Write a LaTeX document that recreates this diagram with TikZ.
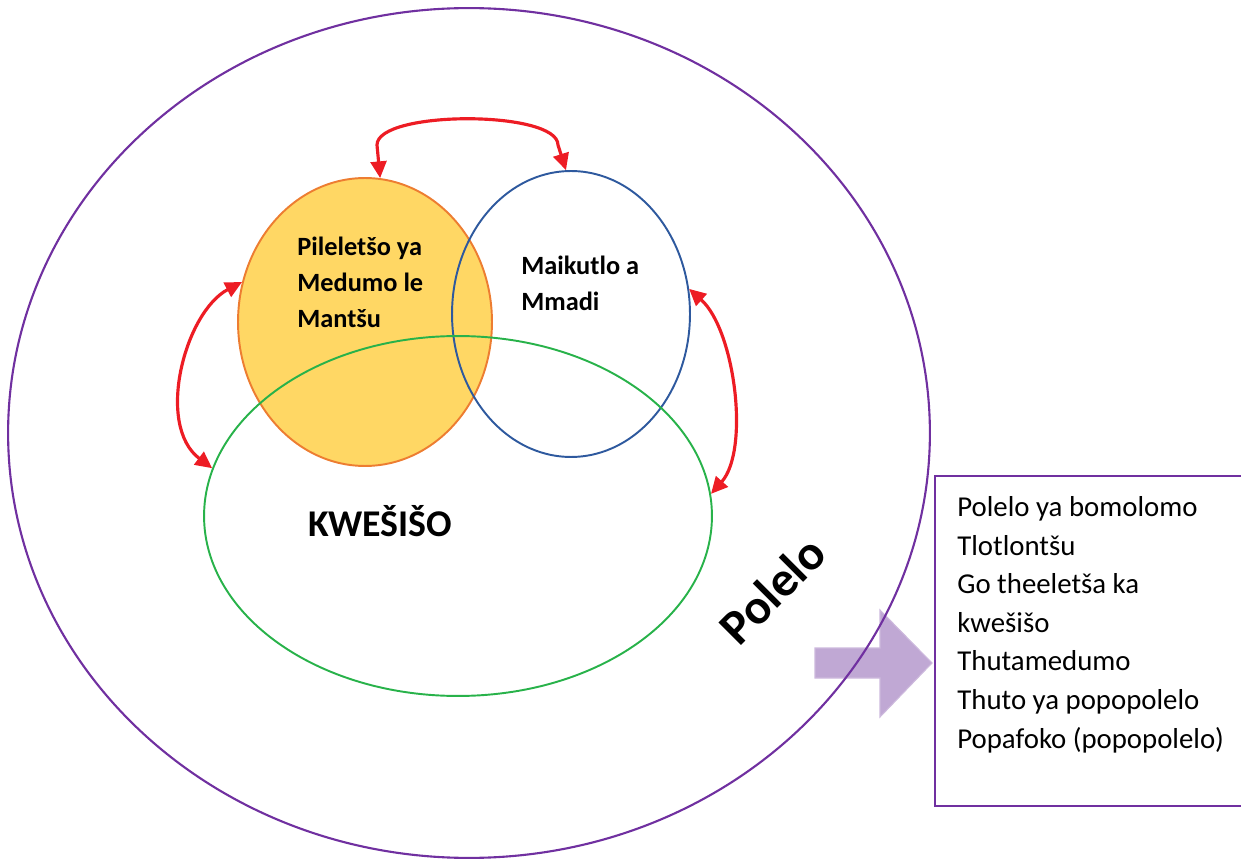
\documentclass[tikz,border=0pt]{standalone}
\usepackage{fontspec}
\setmainfont{Carlito}
\usetikzlibrary{shapes.geometric,arrows.meta}

\definecolor{ringpurple}{RGB}{112,48,160}
\definecolor{lipsorange}{RGB}{237,125,49}
\definecolor{lipsfill}{RGB}{255,215,100}
\definecolor{mindblue}{RGB}{46,89,158}
\definecolor{understandgreen}{RGB}{40,178,74}
\definecolor{linkred}{RGB}{237,28,36}
\definecolor{pointerfill}{RGB}{192,168,212}

\begin{document}
\begin{tikzpicture}[x=0.02cm,y=-0.02cm,
   bubble/.style={ellipse, draw, line width=1.1pt, inner sep=0pt},
   link/.style={linkred, line width=1.8pt, {Triangle[length=9.5pt,width=9pt]}-{Triangle[length=9.5pt,width=9pt]}},
   label/.style={font=\bfseries\fontsize{15}{20.4}\selectfont, align=left, inner sep=0pt, anchor=north west}]
   \useasboundingbox (0,0) rectangle (1241,861);

   % pointer to the list
   \draw[pointerfill!80!white, fill=pointerfill, line width=0.6pt] (815,648) -- (880,648) -- (880,610) -- (932,663) -- (880,717) -- (880,678) -- (815,678) -- cycle;

   \node[bubble, ringpurple, line width=1.2pt, minimum width=18.44cm, minimum height=17cm] (ring) at (469,433) {};
   \node[bubble, lipsorange, fill=lipsfill, minimum width=5.08cm, minimum height=5.76cm] (lips) at (365,322) {};
   \node[bubble, mindblue, minimum width=4.76cm, minimum height=5.72cm] (mind) at (571,314) {};
   \node[bubble, understandgreen, minimum width=10.16cm, minimum height=7.2cm] (grasp) at (458,516) {};

   \node[label] (lipstext) at (297,237) {Pileletšo ya\\Medumo le\\Mantšu};
   \node[label] (mindtext) at (521,256) {Maikutlo a\\Mmadi};
   \node[font=\bfseries\fontsize{21.5}{26}\selectfont, anchor=base west, inner sep=0pt] (grasptext) at (308,536) {KWEŠIŠO};
   \node[font=\bfseries\fontsize{28}{32}\selectfont, rotate=45, inner sep=0pt] (ringtext) at (772,590) {Polelo};

   % red links between the bubbles
   \draw[link] (lips.84) -- (377,145) .. controls (377,110) and (558,110) .. (558,145) -- (mind.92);
   \draw[link] (lips.162) .. controls (185,312) and (155,425) .. (grasp.169);
   \draw[link] (mind.12) .. controls (735,330) and (750,450) .. (grasp.5);

   \draw[ringpurple, line width=1.1pt] (1241,476) -- (935,476) -- (935,806) -- (1241,806);
   \node[anchor=north west, align=left, inner sep=0pt, font=\fontsize{16.4}{22}\selectfont] (list) at (957,496) {Polelo ya bomolomo\\Tlotlontšu\\Go theeletša ka\\kwešišo\\Thutamedumo\\Thuto ya popopolelo\\Popafoko (popopolelo)};
\end{tikzpicture}
\end{document}
